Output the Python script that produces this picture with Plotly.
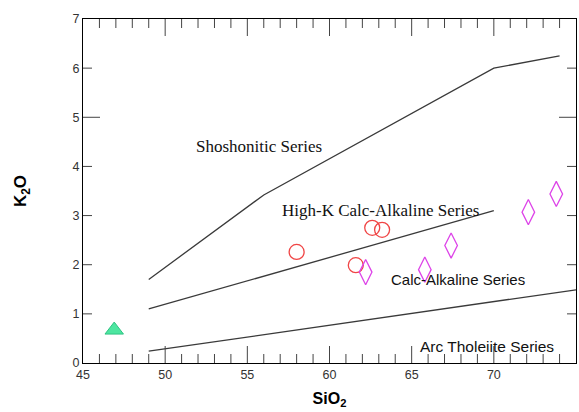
import plotly.graph_objects as go

# Boundary lines (SiO2, K2O)
shosh_x = [49, 56, 70, 74]
shosh_y = [1.7, 3.42, 6.0, 6.25]
highk_x = [49, 70]
highk_y = [1.1, 3.1]
calc_x = [49, 75]
calc_y = [0.24, 1.49]

# Samples
tri_x = [46.9]
tri_y = [0.67]
circ_x = [58.0, 61.6, 62.6, 63.2]
circ_y = [2.26, 1.99, 2.75, 2.71]
dia_x = [62.2, 65.8, 67.4, 72.1, 73.8]
dia_y = [1.85, 1.90, 2.39, 3.07, 3.44]

# Labels
labels = ["Shoshonitic Series", "High-K Calc-Alkaline Series", "Calc-Alkaline Series", "Arc Tholeiite Series"]
label_x = [55.74, 63.08, 67.82, 69.59]
label_y = [4.41, 3.10, 1.70, 0.34]
label_fonts = ["Liberation Serif", "Liberation Serif", "Liberation Sans", "Liberation Sans"]
label_sizes = [17, 17, 15, 15.5]

xticks = [45, 50, 55, 60, 65, 70, 75]
yticks = [0, 1, 2, 3, 4, 5, 6, 7]
x_minor = [v for v in range(46, 75) if v % 5 != 0]
x_major = [50, 55, 60, 65, 70]
y_minor = [1, 2, 3, 4, 6]
y_major = [5]

fig = go.Figure()
line_style = dict(color="#3a3a3a", width=1.3)
for xs, ys in [(shosh_x, shosh_y), (highk_x, highk_y), (calc_x, calc_y)]:
    fig.add_trace(go.Scatter(x=xs, y=ys, mode="lines", line=line_style, hoverinfo="skip"))

fig.add_trace(go.Scatter(x=tri_x, y=tri_y, mode="markers",
                         marker=dict(symbol="triangle-up", size=16, color="#4de6a0",
                                     line=dict(color="#2ec383", width=1))))
fig.add_trace(go.Scatter(x=circ_x, y=circ_y, mode="markers",
                         marker=dict(symbol="circle-open", size=15, color="#f04545",
                                     line=dict(width=1.3))))
fig.add_trace(go.Scatter(x=dia_x, y=dia_y, mode="markers",
                         marker=dict(symbol="diamond-tall-open", size=18, color="#dd44e8",
                                     line=dict(width=1.3))))

for t, x, y, f, s in zip(labels, label_x, label_y, label_fonts, label_sizes):
    fig.add_annotation(x=x, y=y, text=t, showarrow=False, xanchor="center", yanchor="middle",
                       font=dict(family=f, size=s, color="#111111"))

# inward tick marks on all four sides, anchored to the axis scales with pixel lengths
tick_line = dict(color="#444444", width=1)
for vals, ln in [(x_minor, 9), (x_major, 17)]:
    for v in vals:
        for anchor, sign in [(0, 1), (1, -1)]:
            fig.add_shape(type="line", xref="x", yref="paper", x0=v, x1=v,
                          ysizemode="pixel", yanchor=anchor, y0=0, y1=sign * ln, line=tick_line)
for vals, ln in [(y_minor, 9), (y_major, 17)]:
    for v in vals:
        for anchor, sign in [(0, 1), (1, -1)]:
            fig.add_shape(type="line", xref="paper", yref="y", y0=v, y1=v,
                          xsizemode="pixel", xanchor=anchor, x0=0, x1=sign * ln, line=tick_line)

tickfont = dict(family="Liberation Sans", size=12.5, color="#333333")
fig.update_layout(
    width=579, height=412,
    margin=dict(l=83, r=3, t=19, b=48.5),
    paper_bgcolor="white", plot_bgcolor="white",
    showlegend=False,
    xaxis=dict(range=[45, 75], tickmode="array", tickvals=xticks, ticks="",
               showline=True, linecolor="black", linewidth=1, mirror=True,
               showgrid=False, zeroline=False, tickfont=tickfont,
               title=dict(text="<b>SiO<sub>2</sub></b>",
                          font=dict(family="Liberation Sans", size=16, color="black"),
                          standoff=11)),
    yaxis=dict(range=[0, 7], tickmode="array", tickvals=yticks, ticks="",
               showline=True, linecolor="black", linewidth=1, mirror=True,
               showgrid=False, zeroline=False, tickfont=tickfont,
               title=dict(text="<b>K<sub>2</sub>O</b>",
                          font=dict(family="Liberation Sans", size=17, color="black"),
                          standoff=41)),
)
fig.write_html("out.html", config={"displayModeBar": False},
               post_script="document.body.style.margin='0';document.body.style.overflow='hidden';")
